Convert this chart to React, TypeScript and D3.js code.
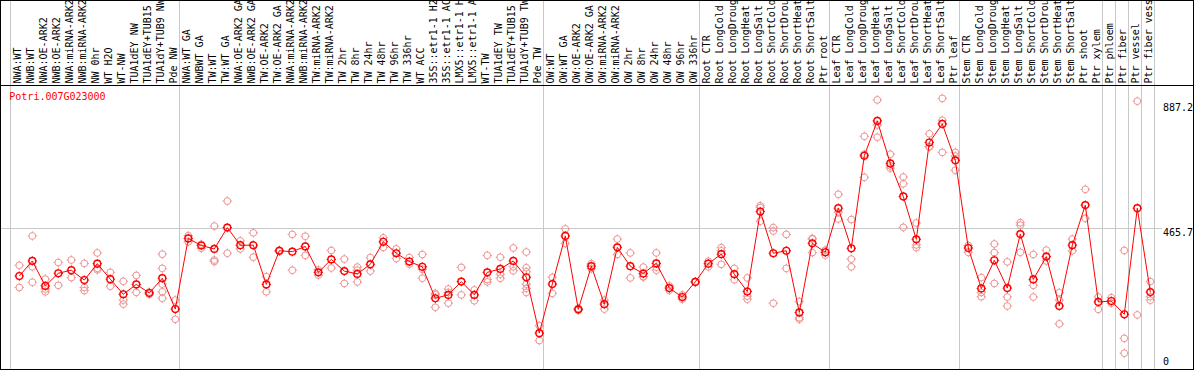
import React from "react";
import * as d3 from "d3";

const categories: string[] = [
  "NWA:WT", "NWB:WT", "NWA:OE-ARK2", "NWB:OE-ARK2", "NWA:miRNA-ARK2", "NWB:miRNA-ARK2",
  "NW 0hr", "WT H2O", "WT-NW", "TUA1dEY NW", "TUA1dEY+TUB15 NW", "TUA1dY+TUB9 NW", "Pde NW",
  "NWA:WT GA", "NWBWT GA", "TW:WT", "TW:WT GA", "NWA:OE-ARK2 GA", "NWB:OE-ARK2 GA",
  "TW:OE-ARK2", "TW:OE-ARK2 GA", "NWA:miRNA-ARK2", "NWB:miRNA-ARK2", "TW:miRNA-ARK2",
  "TW:miRNA-ARK2", "TW 2hr", "TW 8hr", "TW 24hr", "TW 48hr", "TW 96hr", "TW 336hr", "WT ACC",
  "35S::etr1-1 H2O", "35S::etr1-1 ACC", "LMX5::etr1-1 H2O", "LMX5::etr1-1 ACC", "WT-TW",
  "TUA1dEY TW", "TUA1dEY+TUB15 TW", "TUA1dY+TUB9 TW", "Pde TW",
  "OW:WT", "OW:WT GA", "OW:OE-ARK2", "OW:OE-ARK2 GA", "OW:miRNA-ARK2", "OW:miRNA-ARK2",
  "OW 2hr", "OW 8hr", "OW 24hr", "OW 48hr", "OW 96hr", "OW 336hr",
  "Root CTR", "Root LongCold", "Root LongDrought", "Root LongHeat", "Root LongSalt",
  "Root ShortCold", "Root ShortDrought", "Root ShortHeat", "Root ShortSalt", "Ptr root",
  "Leaf CTR", "Leaf LongCold", "Leaf LongDrought", "Leaf LongHeat", "Leaf LongSalt",
  "Leaf ShortCold", "Leaf ShortDrought", "Leaf ShortHeat", "Leaf ShortSalt", "Ptr leaf",
  "Stem CTR", "Stem LongCold", "Stem LongDrought", "Stem LongHeat", "Stem LongSalt",
  "Stem ShortCold", "Stem ShortDrought", "Stem ShortHeat", "Stem ShortSalt", "Ptr shoot",
  "Ptr xylem", "Ptr phloem", "Ptr fiber", "Ptr vessel", "Ptr fiber vessel",
];

const meanValues: number[] = [
  311, 360, 279, 320, 330, 298, 351, 301, 252, 284, 256, 304, 204,
  433, 410, 399, 468, 411, 411, 284, 393, 390, 407, 323, 365, 327, 318, 349, 422, 385, 358,
  341, 239, 250, 293, 250, 323, 334, 360, 307, 126,
  285, 441, 203, 343, 220, 404, 343, 319, 352, 272, 243, 292,
  351, 382, 317, 261, 520, 385, 393, 193, 417, 388,
  531, 401, 701, 814, 676, 569, 430, 744, 804, 686,
  402, 271, 362, 272, 447, 300, 374, 214, 411, 541, 227,
  230, 187, 531, 259,
];

const replicateValues: number[][] = [
  [346, 274], [441, 341, 291], [301, 269, 260], [355, 281], [363, 306], [352, 274, 264],
  [386, 336, 331], [323, 278], [294, 233, 220], [313, 258], [259, 252],
  [382, 336, 285, 260, 239], [233, 171],
  [442, 422], [414, 401], [473, 363, 358], [554, 385], [425, 399], [451, 372], [309, 260],
  [395, 391], [446, 330], [440, 378], [331, 314], [394, 337], [366, 287], [340, 330, 292],
  [371, 327], [435, 404], [399, 368], [371, 350], [381, 333, 304], [255, 250, 210],
  [269, 258, 223], [339, 250], [266, 231], [378, 300, 292], [372, 317, 304],
  [402, 341, 328], [389, 338, 325, 285, 271, 258], [150, 102],
  [307, 255], [464, 417], [206, 200], [351, 335], [233, 204], [431, 381], [386, 305],
  [340, 309, 308], [386, 340, 330], [279, 265], [250, 236], [292, 292],
  [359, 341], [403, 393, 349], [336, 299], [305, 246, 236], [539, 533, 489],
  [468, 457, 223], [446, 336], [228, 176, 171], [433, 431, 387], [395, 379],
  [576, 518, 496], [494, 366, 341], [764, 706, 631], [882, 801, 761], [706, 668, 661],
  [632, 610, 469], [483, 412, 403], [772, 731, 729], [887, 816, 712], [712, 700, 654],
  [410, 388], [306, 258, 244], [415, 387, 287], [357, 243, 214], [484, 476, 388],
  [381, 281, 243], [395, 360], [257, 233, 156], [431, 393], [592, 498], [243, 203],
  [241, 223], [394, 109, 61], [878, 185], [293, 244, 233],
];

const groupStarts: number[] = [0, 13, 41, 53, 63, 73, 84, 85, 86, 87];
const yTicks: number[] = [887.2, 465.7, 0];
const geneId = "Potri.007G023000";

const W = 1194;
const H = 370;
const HEADER = 85;
const MAX_LABEL_CHARS = 14;
const FONT = "'DejaVu Sans Mono', 'Liberation Mono', monospace";
const RED = "#ff0000";
const PINK = "rgb(238,150,150)";
const GRID = "#c8c8c8";

function Marker({ cx, cy, color, sw }: { cx: number; cy: number; color: string; sw: number }) {
  const r = 3.4;
  const t = 1.3;
  return (
    <g>
      <circle cx={cx} cy={cy} r={r} fill="none" stroke={color} strokeWidth={sw} />
      <line x1={cx} x2={cx} y1={cy - r - t} y2={cy - r + 0.5} stroke={color} strokeWidth={1} />
      <line x1={cx} x2={cx} y1={cy + r - 0.5} y2={cy + r + t} stroke={color} strokeWidth={1} />
      <line x1={cx - r - t} x2={cx - r + 0.5} y1={cy} y2={cy} stroke={color} strokeWidth={1} />
      <line x1={cx + r - 0.5} x2={cx + r + t} y1={cy} y2={cy} stroke={color} strokeWidth={1} />
    </g>
  );
}

export default function App() {
  const idx = d3.range(categories.length);
  const x = d3.scaleBand<number>().domain(idx).range([10.5, 10.5 + 13 * categories.length]);
  const px = (i: number) => (x(i) as number) + 8.8;
  const y = d3.scaleLinear().domain([0, 887.2]).range([372, 98.3]);

  const line = d3
    .line<number>()
    .x((_, i) => px(i))
    .y((d) => y(d));

  const gridXs = [...groupStarts.map((g) => x(g) as number), x.range()[1]];

  return (
    <svg
      width={W}
      height={H}
      style={{ position: "absolute", left: 0, top: 0, background: "#fff" }}
      fontFamily={FONT}
    >
      <rect x={0} y={0} width={W} height={H} fill="#fff" />
      {gridXs.map((gx, k) => (
        <line key={"g" + k} x1={gx} x2={gx} y1={0} y2={369} stroke={GRID} strokeWidth={1} />
      ))}
      <line
        x1={0}
        x2={1162}
        y1={Math.round(y(465.7)) + 0.5}
        y2={Math.round(y(465.7)) + 0.5}
        stroke={GRID}
        strokeWidth={1}
      />
      {categories.map((c, i) => (
        <text
          key={"l" + i}
          transform={`translate(${px(i) + 1.5},83.5) rotate(-90)`}
          fontSize={10}
          fill="#000"
        >
          {c.slice(0, MAX_LABEL_CHARS)}
        </text>
      ))}
      <line x1={0} x2={W} y1={HEADER + 0.5} y2={HEADER + 0.5} stroke="#000" strokeWidth={1} />
      <rect x={0.5} y={0.5} width={W - 1} height={369} fill="none" stroke="#000" strokeWidth={1} />
      <text x={9.3} y={100} fontSize={10} fill={RED}>
        {geneId}
      </text>
      {yTicks.map((t) => (
        <text
          key={"t" + t}
          x={1163}
          y={Math.min(Math.max(y(t) + 7.5, 111), 365)}
          fontSize={10}
          fill="#000"
        >
          {String(t)}
        </text>
      ))}
      {replicateValues.map((reps, i) =>
        reps.map((v, j) => <Marker key={`r${i}-${j}`} cx={px(i)} cy={y(v)} color={PINK} sw={1} />)
      )}
      <path d={line(meanValues) || ""} fill="none" stroke={RED} strokeWidth={1} />
      {meanValues.map((v, i) => (
        <Marker key={"m" + i} cx={px(i)} cy={y(v)} color={RED} sw={1.4} />
      ))}
    </svg>
  );
}
